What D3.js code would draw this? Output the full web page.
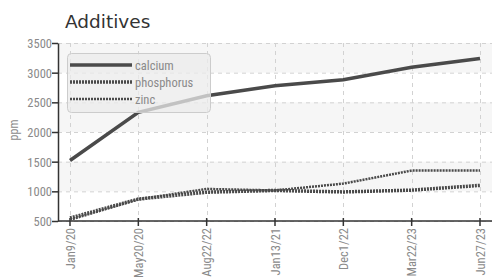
<!DOCTYPE html>
<html>
<head>
<meta charset="utf-8">
<script src="https://cdn.jsdelivr.net/npm/d3@7"></script>
<style>
  body { margin: 0; background: #fff; }
  text { font-family: "Liberation Sans Narrow", "Roboto Condensed", "Roboto", sans-serif; }
</style>
</head>
<body>
<div id="container"></div>
<script>
// chart data
let dates = ["Jan9/20", "May20/20", "Aug22/22", "Jan13/21", "Dec1/22", "Mar22/23", "Jun27/23"];
let calcium = [1520, 2330, 2610, 2780, 2880, 3090, 3240];
let phosphorus = [550, 870, 985, 1015, 990, 1020, 1100];
let zinc = [520, 865, 1040, 1015, 1130, 1350, 1350];
let yTicks = [500, 1000, 1500, 2000, 2500, 3000, 3500];

let w = 503;
let h = 279;
let padLeft = 58, padRight = 492, padTop = 43, padBottom = 221;
let lineColor = "#4a4a4a";

let viz = d3.select("#container")
  .append("svg")
    .attr("width", w)
    .attr("height", h);

let xScale = d3.scalePoint().domain(dates).range([70, 480]);
let yScale = d3.scaleLinear().domain([500, 3500]).range([padBottom, padTop]);

// alternating bands
let bands = [[3000, 3500], [2000, 2500], [1000, 1500]];
viz.append("g").selectAll("rect").data(bands).enter()
  .append("rect")
    .attr("x", padLeft)
    .attr("width", padRight - padLeft)
    .attr("y", d => yScale(d[1]))
    .attr("height", d => yScale(d[0]) - yScale(d[1]))
    .attr("fill", "#f6f6f6");

// grid
let grid = viz.append("g").attr("stroke", "#d2d2d2").attr("stroke-dasharray", "4,4");
grid.selectAll(".hg").data(yTicks).enter()
  .append("line")
    .attr("x1", padLeft).attr("x2", padRight)
    .attr("y1", d => yScale(d) + 0.5).attr("y2", d => yScale(d) + 0.5);
grid.selectAll(".vg").data(dates).enter()
  .append("line")
    .attr("x1", d => Math.round(xScale(d)) + 0.5).attr("x2", d => Math.round(xScale(d)) + 0.5)
    .attr("y1", padTop).attr("y2", padBottom);

// axes
let yAxis = d3.axisLeft(yScale).tickValues(yTicks).tickSize(6).tickSizeOuter(0).tickFormat(d3.format("d"));
let yAxisGroup = viz.append("g").attr("transform", "translate(" + padLeft + ",0)").call(yAxis);
yAxisGroup.select(".domain").attr("stroke", "#333").attr("stroke-width", 1.5);
yAxisGroup.selectAll(".tick line").attr("stroke", "#333").attr("stroke-width", 1.5);
yAxisGroup.selectAll(".tick text").attr("fill", "#8a8a8a").attr("font-size", 12.5).attr("x", -6).attr("dy", "0.36em")
  .style("font-family", "'Liberation Sans Narrow', 'Roboto Condensed', sans-serif");

let xAxisGroup = viz.append("g").attr("transform", "translate(0," + padBottom + ")");
xAxisGroup.append("line").attr("x1", padLeft).attr("x2", padRight).attr("stroke", "#333").attr("stroke-width", 1.5);
let xTick = xAxisGroup.selectAll(".xt").data(dates).enter().append("g")
  .attr("transform", d => "translate(" + xScale(d) + ",0)");
xTick.append("line").attr("y1", -3).attr("y2", 5).attr("stroke", "#333").attr("stroke-width", 1.5);
xTick.append("text")
  .attr("transform", "rotate(-90)")
  .attr("x", -7).attr("dy", "0.36em")
  .attr("text-anchor", "end")
  .attr("fill", "#8a8a8a")
  .attr("font-size", 12.5)
  .text(d => d);

// y label
viz.append("text")
  .attr("transform", "translate(18,130) rotate(-90)")
  .attr("text-anchor", "middle")
  .attr("fill", "#8a8a8a")
  .attr("font-size", 12)
  .text("ppm");

// title
viz.append("text")
  .attr("x", 65).attr("y", 27.5)
  .attr("fill", "#333")
  .attr("font-size", 18.5)
  .style("font-family", "'DejaVu Sans', sans-serif")
  .text("Additives");

// series
let series = [
  {name: "calcium", values: calcium, width: 3.5, dash: null},
  {name: "phosphorus", values: phosphorus, width: 3.5, dash: "2,1"},
  {name: "zinc", values: zinc, width: 2.5, dash: "2,1"}
];
let lineMaker = d3.line().x((d, i) => xScale(dates[i])).y(d => yScale(d));
viz.append("g").selectAll("path").data(series).enter()
  .append("path")
    .attr("d", d => lineMaker(d.values))
    .attr("fill", "none")
    .attr("stroke", lineColor)
    .attr("stroke-width", d => d.width)
    .attr("stroke-dasharray", d => d.dash);

// legend
let legend = viz.append("g");
legend.append("rect")
  .attr("x", 67.5).attr("y", 53.5).attr("width", 143).attr("height", 59).attr("rx", 4)
  .attr("fill", "rgba(235,235,235,0.75)").attr("stroke", "#cccccc");
let entry = legend.selectAll(".le").data(series).enter().append("g")
  .attr("transform", (d, i) => "translate(0," + (65 + i * 17) + ")");
entry.append("line")
  .attr("x1", 70).attr("x2", 132)
  .attr("stroke", lineColor)
  .attr("stroke-width", d => d.width)
  .attr("stroke-dasharray", d => d.dash);
entry.append("text")
  .attr("x", 135).attr("dy", "0.36em")
  .attr("fill", "#8a8a8a")
  .attr("font-size", 12.5)
  .text(d => d.name);
</script>
</body>
</html>
